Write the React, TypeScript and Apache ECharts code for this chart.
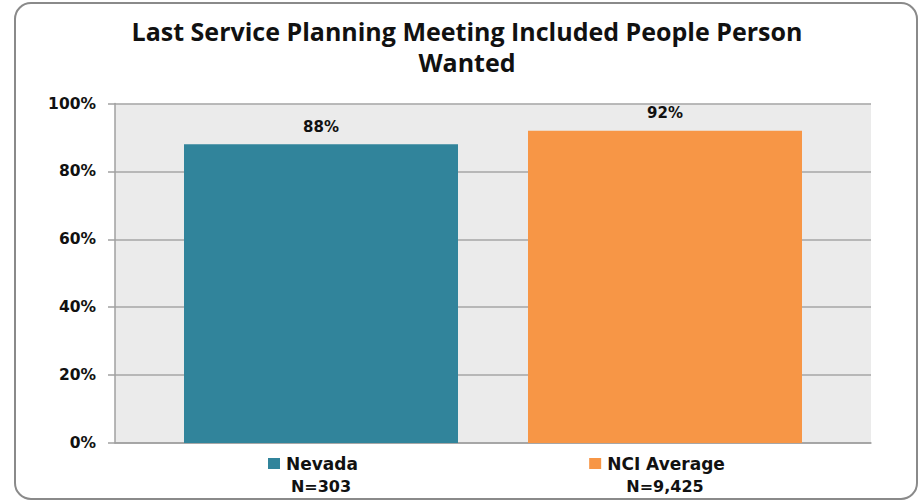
import React, { useEffect, useRef } from "react";
import * as echarts from "echarts";

const categories = ["Nevada", "NCI Average"];
const sampleSizes = ["N=303", "N=9,425"];
const values = [88, 92];
const barColors = ["#31849B", "#F79646"];
const yTicks = [0, 20, 40, 60, 80, 100];

export default function App() {
  const ref = useRef<HTMLDivElement>(null);
  useEffect(() => {
    if (!ref.current) return;
    const chart = echarts.init(ref.current, null, { renderer: "svg" });
    const axisFont = "DejaVu Sans";
    chart.setOption({
      animation: false,
      backgroundColor: "#ffffff",
      title: {
        text: "Last Service Planning Meeting Included People Person\nWanted",
        left: 462,
        top: 10,
        textAlign: "center",
        textStyle: {
          fontFamily: "Open Sans",
          fontWeight: "bold",
          fontSize: 25,
          lineHeight: 31,
          color: "#111",
        },
      },
      graphic: [
        {
          type: "rect",
          shape: { x: 15, y: 3, width: 902, height: 496, r: 16 },
          style: { fill: "none", stroke: "#8a8a8a", lineWidth: 2 },
          z: -1,
        },
      ],
      grid: [
        { left: 115, top: 103.5, width: 756, height: 339.5, show: true, backgroundColor: "#EBEBEB", borderWidth: 0 },
        { left: 149, top: 103.5, width: 688, height: 339.5, show: false },
      ],
      xAxis: [
        {
          gridIndex: 0,
          type: "category",
          data: [""],
          axisLine: { show: true, lineStyle: { color: "#a0a0a0", width: 1.5 } },
          axisTick: { show: false },
          axisLabel: { show: false },
        },
        {
          gridIndex: 1,
          type: "category",
          data: categories,
          axisLine: { show: false },
          axisTick: { show: false },
          axisLabel: {
            margin: 9,
            formatter: (v: string, i: number) => `{sq${i}|}{name|${v}}\n{n|${sampleSizes[i]}}`,
            rich: {
              sq0: { backgroundColor: barColors[0], width: 12, height: 11, padding: 0 },
              sq1: { backgroundColor: barColors[1], width: 12, height: 11, padding: 0 },
              name: { fontFamily: axisFont, fontWeight: "bold", fontSize: 17, color: "#111", padding: [0, 16, 0, 6], lineHeight: 23 },
              n: { fontFamily: axisFont, fontWeight: "bold", fontSize: 16, color: "#111", lineHeight: 23 },
            },
          },
        },
      ],
      yAxis: [
        {
          gridIndex: 0,
          type: "value",
          min: 0,
          max: 100,
          interval: 20,
          axisLine: { show: true, lineStyle: { color: "#a0a0a0", width: 1.5 } },
          axisTick: { show: true, length: 7, lineStyle: { color: "#a0a0a0", width: 1.5 } },
          splitLine: { show: true, lineStyle: { color: "#a6a6a6", width: 1.5 } },
          axisLabel: {
            margin: 19,
            formatter: (v: number) => (yTicks.includes(v) ? `${v}%` : ""),
            fontFamily: axisFont,
            fontWeight: "bold",
            fontSize: 15.5,
            color: "#111",
          },
        },
        {
          gridIndex: 1,
          type: "value",
          min: 0,
          max: 100,
          show: false,
        },
      ],
      series: [
        {
          type: "bar",
          xAxisIndex: 1,
          yAxisIndex: 1,
          barWidth: 274,
          data: values.map((v, i) => ({ value: v, itemStyle: { color: barColors[i] } })),
          label: {
            show: true,
            position: "top",
            distance: 10,
            formatter: "{c}%",
            fontFamily: axisFont,
            fontWeight: "bold",
            fontSize: 15,
            color: "#111",
          },
        },
      ],
    });
    return () => chart.dispose();
  }, []);
  return (
    <div
      ref={ref}
      style={{ position: "fixed", left: 0, top: 0, width: 924, height: 501 }}
    />
  );
}
